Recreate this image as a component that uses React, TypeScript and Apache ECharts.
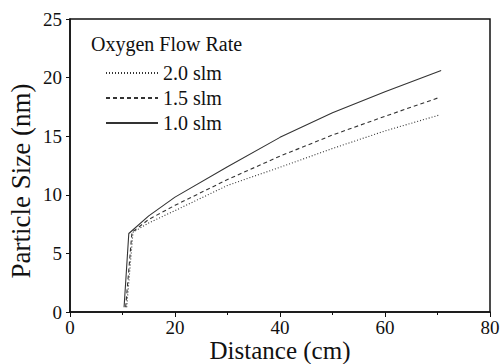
import React, { useEffect, useRef } from "react";
import * as echarts from "echarts";

const seriesNames = ["2.0 slm", "1.5 slm", "1.0 slm"];
const dist20: number[][] = [[10.8, 0.4], [12.0, 6.8], [15, 7.6], [20, 8.65], [30, 10.8], [40, 12.35], [50, 13.95], [60, 15.45], [70.3, 16.8]];
const dist15: number[][] = [[10.6, 0.4], [11.8, 6.8], [15, 7.9], [20, 9.1], [30, 11.3], [40, 13.3], [50, 15.1], [60, 16.7], [70.3, 18.3]];
const dist10: number[][] = [[10.3, 0.4], [11.2, 6.7], [15, 8.2], [20, 9.8], [30, 12.4], [40, 14.9], [50, 17.0], [60, 18.8], [70.7, 20.6]];
const lineTypes: any[] = [[1, 2], [4, 3], "solid"];
const xTicks = [0, 20, 40, 60, 80];
const legendTitle = "Oxygen Flow Rate";
const xName = "Distance (cm)";
const yName = "Particle Size (nm)";

export default function App() {
  const ref = useRef<HTMLDivElement>(null);
  useEffect(() => {
    const chart = echarts.init(ref.current!, null, { renderer: "svg" });
    const font = "'Liberation Serif', 'Times New Roman', serif";
    const datas = [dist20, dist15, dist10];
    chart.setOption({
      animation: false,
      backgroundColor: "#fff",
      textStyle: { fontFamily: font },
      grid: { left: 70, right: 11, top: 19, bottom: 52, containLabel: false, outerBoundsMode: "none" },
      title: {
        text: legendTitle,
        left: 91,
        top: 34,
        padding: 0,
        textStyle: { fontFamily: font, fontSize: 20, fontWeight: "normal", color: "#111" },
      },
      legend: {
        orient: "vertical",
        left: 100,
        top: 58,
        itemWidth: 52,
        itemHeight: 14,
        itemGap: 5,
        itemStyle: { opacity: 0 },
        textStyle: { fontFamily: font, fontSize: 20, color: "#111" },
        data: seriesNames,
      },
      xAxis: {
        type: "value",
        min: 0,
        max: 80,
        interval: 20,
        axisLine: { show: true, onZero: false, lineStyle: { color: "#111", width: 1.5 } },
        axisTick: { show: true, inside: false, length: 5, lineStyle: { color: "#111" } },
        minorTick: { show: true, splitNumber: 2, length: 3, lineStyle: { color: "#111" } },
        axisLabel: { fontFamily: font, fontSize: 19, color: "#111", margin: 6, formatter: (v: number) => (xTicks.includes(v) ? String(v) : "") },
        splitLine: { show: false },
      },
      yAxis: {
        type: "value",
        min: 0,
        max: 25,
        interval: 5,
        axisLine: { show: true, onZero: false, lineStyle: { color: "#111", width: 1.5 } },
        axisTick: { show: true, inside: false, length: 4, lineStyle: { color: "#111" } },
        axisLabel: { fontFamily: font, fontSize: 19, color: "#111", margin: 8 },
        splitLine: { show: false },
      },
      series: seriesNames.map((n, i) => ({
        name: n,
        type: "line",
        data: datas[i],
        symbol: "none",
        smooth: false,
        lineStyle: { color: "#333", width: 1.1, type: lineTypes[i] },
        itemStyle: { color: "#333" },
      })),
      graphic: [
        {
          type: "rect",
          shape: { x: 70, y: 19, width: 420, height: 293 },
          style: { fill: "none", stroke: "#111", lineWidth: 1.5 },
          silent: true,
        },
        {
          type: "text",
          x: 280,
          y: 350,
          style: { text: xName, font: `25px ${font}`, fill: "#111", align: "center", verticalAlign: "middle" },
          silent: true,
        },
        {
          type: "text",
          x: 21,
          y: 181,
          rotation: Math.PI / 2,
          style: { text: yName, font: `27px ${font}`, fill: "#111", align: "center", verticalAlign: "middle" },
          silent: true,
        },
      ],
    });
    return () => chart.dispose();
  }, []);
  return <div ref={ref} style={{ width: 501, height: 364, position: "fixed", left: 0, top: 0 }} />;
}
